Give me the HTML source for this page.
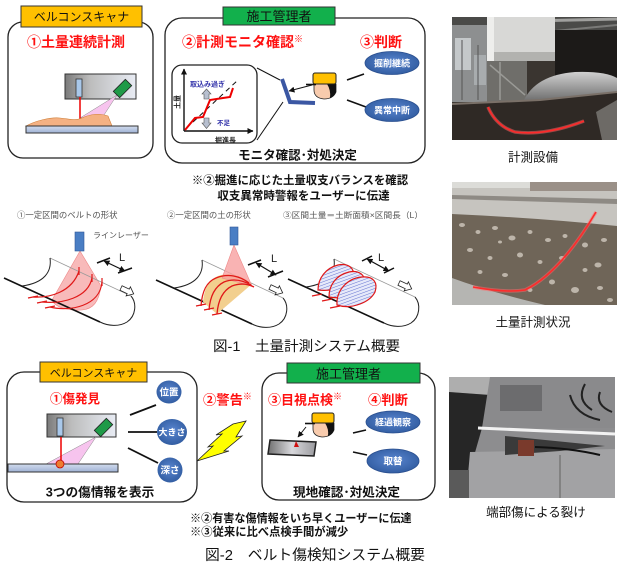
<!DOCTYPE html>
<html><head><meta charset="utf-8">
<style>
html,body{margin:0;padding:0;background:#fff;}
svg{display:block;}
text{font-family:"Liberation Sans","Noto Sans CJK JP",sans-serif;}
.r{fill:#FF1010;font-weight:bold;}
.b{font-weight:bold;fill:#111;}
.w{fill:#fff;font-weight:bold;}
.cap{fill:#555;}
</style></head><body>
<svg width="624" height="568" viewBox="0 0 624 568" xmlns="http://www.w3.org/2000/svg">
<defs>
  <linearGradient id="dev" x1="0" x2="1" y1="0" y2="0">
    <stop offset="0" stop-color="#7a7a7a"/><stop offset="0.35" stop-color="#bcbcbc"/><stop offset="1" stop-color="#e8ecf4"/>
  </linearGradient>
  <linearGradient id="belt" x1="0" x2="0" y1="0" y2="1">
    <stop offset="0" stop-color="#d2dcee"/><stop offset="1" stop-color="#9fb2d4"/>
  </linearGradient>
  <linearGradient id="plate" x1="0" x2="1" y1="0" y2="0">
    <stop offset="0" stop-color="#707070"/><stop offset="0.5" stop-color="#d8d8dc"/><stop offset="1" stop-color="#9a9a9e"/>
  </linearGradient>
  <radialGradient id="ell" cx="0.5" cy="0.45" r="0.6">
    <stop offset="0" stop-color="#5a86d0"/><stop offset="1" stop-color="#2f5a9e"/>
  </radialGradient>
  <linearGradient id="drum" x1="0" x2="0" y1="0" y2="1">
    <stop offset="0" stop-color="#d0d0d0"/><stop offset="1" stop-color="#6a6a6a"/>
  </linearGradient>
  <pattern id="hatch" width="3" height="3" patternUnits="userSpaceOnUse" patternTransform="rotate(70)">
    <rect width="3" height="3" fill="#e6e9fa"/>
    <line x1="0" y1="0" x2="0" y2="3" stroke="#5566cc" stroke-width="0.9"/>
  </pattern>
  <marker id="ah" markerWidth="6" markerHeight="6" refX="5.5" refY="3" orient="auto" markerUnits="userSpaceOnUse">
    <path d="M0,0 L6,3 L0,6 Z" fill="#111"/>
  </marker>
  <marker id="ah2" markerWidth="6" markerHeight="6" refX="5.5" refY="3" orient="auto-start-reverse" markerUnits="userSpaceOnUse">
    <path d="M0,0 L6,3 L0,6 Z" fill="#111"/>
  </marker>
  <clipPath id="c1"><rect x="452" y="17" width="165" height="123"/></clipPath>
  <clipPath id="c2"><rect x="452" y="182" width="165" height="123"/></clipPath>
  <clipPath id="c3"><rect x="449" y="377" width="166" height="121"/></clipPath>
  <g id="beltshape">
    <path d="M50,258 L131,296" stroke="#999" stroke-width="0.8" fill="none"/>
    <path d="M50,258 C52,272 44,283 22,286" stroke="#222" stroke-width="1" fill="none"/>
    <path d="M4,278 L100,322" stroke="#111" stroke-width="1.6" fill="none"/>
    <path d="M131,296 C137,303 136,316 127,322 C119,327 108,326 100,322" stroke="#222" stroke-width="1" fill="none"/>
  </g>
  <g id="harrow">
    <path d="M0,-2.5 L8,-2.5 L8,-5 L14,0 L8,5 L8,2.5 L0,2.5 Z" fill="#fff" stroke="#222" stroke-width="0.8"/>
  </g>
</defs>

<rect width="624" height="568" fill="#fff"/>

<!-- ============ FIGURE 1 TOP ============ -->
<!-- Box 1 -->
<rect x="8" y="22" width="145" height="136" rx="15" fill="#fff" stroke="#222" stroke-width="1.3"/>
<rect x="21" y="6" width="121" height="21" fill="#FFC000" stroke="#333" stroke-width="1"/>
<text x="81.5" y="21" font-size="12" text-anchor="middle" fill="#111">ベルコンスキャナ</text>
<text x="27" y="47" font-size="14" class="r">①土量連続計測</text>
<!-- device -->
<rect x="65" y="74" width="71" height="25" fill="url(#dev)" stroke="#333" stroke-width="1"/>
<rect x="76" y="79" width="6" height="18" fill="#a9c8ea" stroke="#333" stroke-width="0.8"/>
<polygon points="117,95 80,118 104,115" fill="#f7c4ee" stroke="#888" stroke-width="0.5"/>
<rect x="114" y="84" width="17" height="9" fill="#1f9a48" stroke="#222" stroke-width="0.8" transform="rotate(-45 122.5 88.5)"/>
<line x1="80" y1="97" x2="80" y2="119" stroke="#e00" stroke-width="1.5"/>
<path d="M26,126 C35,121 50,117 60,118 C70,119 75,121 82,118 C90,114 100,113 108,116 L112,126 Z" fill="#f4b183" stroke="#d0803a" stroke-width="0.6"/>
<rect x="26" y="126" width="112" height="7" fill="url(#belt)" stroke="#333" stroke-width="1"/>

<!-- Box 2 -->
<rect x="165" y="18" width="260" height="145" rx="17" fill="#fff" stroke="#222" stroke-width="1.3"/>
<rect x="223" y="7" width="112" height="18" fill="#12b04c" stroke="#333" stroke-width="1"/>
<text x="279" y="21" font-size="13" text-anchor="middle" fill="#111">施工管理者</text>
<text x="182" y="47" font-size="14" class="r">②計測モニタ確認<tspan font-size="9" dy="-5">※</tspan></text>
<text x="360" y="47" font-size="14" class="r">③判断</text>

<!-- graph box -->
<rect x="172" y="65" width="85" height="78" rx="10" fill="#fff" stroke="#222" stroke-width="1.3"/>
<line x1="184" y1="131" x2="184" y2="69" stroke="#111" stroke-width="1.4" marker-end="url(#ah)"/>
<line x1="184" y1="131" x2="253" y2="131" stroke="#111" stroke-width="1.4" marker-end="url(#ah)"/>
<line x1="193" y1="122" x2="238" y2="80" stroke="#111" stroke-width="1" stroke-dasharray="5,4"/>
<polyline points="185,130 195,118 203,117 210,100 223,98 230,97 233,88" fill="none" stroke="#e00" stroke-width="2"/>
<polygon points="206.5,89 211,94 209,94 209,99 204,99 204,94 202,94" fill="#b8c0d0" stroke="#555" stroke-width="0.6"/>
<polygon points="202,123 204,123 204,118 209,118 209,123 211,123 206.5,128.5" fill="#b8c0d0" stroke="#555" stroke-width="0.6"/>
<text x="190" y="86.5" font-size="7" fill="#3333aa" font-weight="bold">取込み過ぎ</text>
<text x="217" y="125" font-size="6.5" fill="#3333aa" font-weight="bold">不足</text>
<text x="215" y="142.5" font-size="7" fill="#222" font-weight="bold">掘進長</text>
<text x="0" y="0" font-size="7" fill="#222" font-weight="bold" text-anchor="middle" transform="translate(179.5,102) rotate(-90)">土量</text>

<!-- connection lines to monitor -->
<line x1="257" y1="68" x2="280" y2="80" stroke="#111" stroke-width="1"/>
<line x1="257" y1="140" x2="283" y2="102" stroke="#111" stroke-width="1"/>
<!-- monitor -->
<polyline points="282,79 290,102 315,103" fill="none" stroke="#3b57a3" stroke-width="4" stroke-linejoin="miter"/>
<line x1="312" y1="85" x2="289" y2="91" stroke="#111" stroke-width="1" marker-end="url(#ah)"/>
<!-- person 1 -->
<path d="M314,84 L336,84 L336,92 Q333,99 324,99 Q314,98 314,90 Z" fill="#f8cbad" stroke="#222" stroke-width="0.8"/>
<path d="M327,84 L336,84 L336,92 Q334,97 330,98 Q331,90 327,84Z" fill="#111"/>
<rect x="313" y="73" width="23" height="11" rx="2" fill="#FFC000" stroke="#222" stroke-width="1"/>
<line x1="306" y1="84.5" x2="316" y2="84.5" stroke="#111" stroke-width="1.6"/>
<!-- judgement lines -->
<line x1="347" y1="80" x2="364" y2="74" stroke="#111" stroke-width="1.6"/>
<line x1="347" y1="100" x2="366" y2="107" stroke="#111" stroke-width="1.6"/>
<ellipse cx="392" cy="63" rx="27" ry="11.5" fill="url(#ell)" stroke="#2a4f8f" stroke-width="0.8"/>
<text x="392" y="66.5" font-size="9" text-anchor="middle" class="w">掘削継続</text>
<ellipse cx="392" cy="110" rx="27" ry="11.5" fill="url(#ell)" stroke="#2a4f8f" stroke-width="0.8"/>
<text x="392" y="113.5" font-size="9" text-anchor="middle" class="w">異常中断</text>

<text x="297.5" y="159.5" font-size="12.5" text-anchor="middle" class="b">モニタ確認･対処決定</text>

<text x="300" y="184" font-size="11.4" text-anchor="middle" class="b">※②掘進に応じた土量収支バランスを確認</text>
<text x="303.5" y="199.5" font-size="11.5" text-anchor="middle" class="b">収支異常時警報をユーザーに伝達</text>

<!-- ============ FIGURE 1 DRAWINGS ============ -->
<text x="17" y="218" font-size="8.4" class="cap">①一定区間のベルトの形状</text>
<text x="167" y="218" font-size="8.4" class="cap">②一定区間の土の形状</text>
<text x="283" y="218" font-size="8.2" class="cap" textLength="140" lengthAdjust="spacingAndGlyphs">③区間土量＝土断面積×区間長（L）</text>
<text x="93" y="238" font-size="8" class="cap">ラインレーザー</text>

<!-- drawing 1 -->
<path d="M80,251 L52,300 C55,308 70,311 82,310 C93,309 99,302 101,286 Z" fill="#f7aeae" fill-opacity="0.85" stroke="#e88" stroke-width="0.6"/>
<use href="#beltshape"/>
<rect x="75" y="232" width="9" height="19" fill="#4a7ec4" stroke="#2f5597" stroke-width="0.6"/>
<g fill="none" stroke="#e01818" stroke-width="1.2">
  <path d="M33,297 C50,298 72,292 79,271"/>
  <path d="M42,302 C62,304 88,298 92,278"/>
  <path d="M50,307 C70,312 100,306 102,282"/>
  <path d="M28,298 L38,296 M37,303 L47,301 M45,308 L55,306 M79,267 L79,275 M92,274 L92,282 M102,278 L102,286"/>
</g>
<g stroke="#111" stroke-width="1.5">
  <line x1="97" y1="263" x2="110" y2="258"/>
  <line x1="118" y1="273" x2="132" y2="268"/>
  <line x1="104" y1="261" x2="125" y2="271" stroke-width="1.2" marker-start="url(#ah2)" marker-end="url(#ah2)"/>
</g>
<text x="119" y="261" font-size="11" fill="#222">L</text>
<use href="#harrow" transform="translate(121,288) rotate(25)"/>

<!-- drawing 2 -->
<use href="#beltshape" transform="translate(152,2)"/>
<path d="M203,302 C204,290 208,280 218,276 C228,272 240,274 252,284 L217,314 Z" fill="#f2cf8e"/>
<path d="M234,245 L222,278 L252,286 Z" fill="#f7a0a0" fill-opacity="0.8" stroke="#e88" stroke-width="0.6"/>
<rect x="230" y="227" width="8" height="18" fill="#4a7ec4" stroke="#2f5597" stroke-width="0.6"/>
<g fill="none" stroke="#e01818" stroke-width="1.3">
  <path d="M201,306 C202,292 206,282 216,278 C228,273 240,276 249,283"/>
  <path d="M209,310 C210,297 214,287 224,282 C234,278 244,281 251,285"/>
  <path d="M217,314 C218,301 222,291 232,286 C240,283 248,284 254,287"/>
  <path d="M196,306 L206,304 M204,310 L214,308 M212,315 L222,313"/>
</g>
<g stroke="#111" stroke-width="1.5">
  <line x1="248" y1="265" x2="261" y2="260"/>
  <line x1="268" y1="277" x2="283" y2="271"/>
  <line x1="256" y1="263" x2="276" y2="275" stroke-width="1.2" marker-start="url(#ah2)" marker-end="url(#ah2)"/>
</g>
<text x="271" y="262" font-size="11" fill="#222">L</text>
<use href="#harrow" transform="translate(270,287) rotate(25)"/>

<!-- drawing 3 -->
<use href="#beltshape" transform="translate(284,1)"/>
<g stroke-width="1.2">
  <path d="M318,290 C318,278 326,268 338,265 C348,263 355,268 353,276 C350,285 335,292 318,290 Z" fill="url(#hatch)" stroke="#e01818"/>
  <path d="M329,297 C329,284 337,275 349,272 C359,270 366,275 364,283 C360,293 345,300 329,297 Z" fill="url(#hatch)" stroke="#e01818"/>
  <path d="M337,305 C336,290 348,278 362,277 C374,276 378,283 375,292 C370,302 352,310 337,305 Z" fill="url(#hatch)" stroke="#e01818"/>
  <path d="M312,296 L322,294 M322,301 L332,299 M330,308 L340,306" stroke="#e01818"/>
</g>
<g stroke="#111" stroke-width="1.5">
  <line x1="362" y1="261" x2="372" y2="256"/>
  <line x1="384" y1="273" x2="394" y2="268"/>
  <line x1="367" y1="259" x2="389" y2="271" stroke-width="1.2" marker-start="url(#ah2)" marker-end="url(#ah2)"/>
</g>
<text x="378" y="261" font-size="11" fill="#222">L</text>
<use href="#harrow" transform="translate(399,283) rotate(25)"/>

<text x="213" y="351" font-size="14" fill="#111" textLength="187" lengthAdjust="spacingAndGlyphs">図-1　土量計測システム概要</text>

<!-- ============ FIGURE 2 ============ -->
<!-- Box A -->
<rect x="7" y="372" width="190" height="130" rx="17" fill="#fff" stroke="#222" stroke-width="1.3"/>
<rect x="40" y="362" width="107" height="20" fill="#FFC000" stroke="#333" stroke-width="1"/>
<text x="93.5" y="376.5" font-size="11" text-anchor="middle" fill="#111">ベルコンスキャナ</text>
<text x="50" y="403" font-size="12.5" class="r">①傷発見</text>
<rect x="47" y="414" width="69" height="23" fill="url(#dev)" stroke="#333" stroke-width="1"/>
<rect x="57" y="418" width="6" height="18" fill="#a9c8ea" stroke="#333" stroke-width="0.8"/>
<polygon points="96,437 46,464 78,464" fill="#f7c4ee" stroke="#888" stroke-width="0.5"/>
<rect x="95" y="423" width="17" height="9" fill="#1f9a48" stroke="#222" stroke-width="0.8" transform="rotate(-45 103.5 427.5)"/>
<line x1="61" y1="437" x2="61" y2="463" stroke="#e00" stroke-width="1.5"/>
<rect x="8" y="464" width="110" height="8" fill="url(#belt)" stroke="#333" stroke-width="1"/>
<circle cx="60" cy="464" r="4" fill="#ed7d31" stroke="#c00000" stroke-width="0.8"/>
<line x1="130" y1="415" x2="156" y2="405" stroke="#111" stroke-width="1.8"/>
<line x1="128" y1="432" x2="157" y2="432" stroke="#111" stroke-width="1.8"/>
<line x1="128" y1="448" x2="158" y2="463" stroke="#111" stroke-width="1.8"/>
<ellipse cx="169" cy="392" rx="12.5" ry="11.5" fill="url(#ell)"/>
<text x="169" y="395.5" font-size="9.5" text-anchor="middle" class="w">位置</text>
<ellipse cx="172" cy="432" rx="15" ry="13" fill="url(#ell)"/>
<text x="172" y="435.5" font-size="9" text-anchor="middle" class="w">大きさ</text>
<ellipse cx="170" cy="470" rx="12.5" ry="12.5" fill="url(#ell)"/>
<text x="170" y="473.5" font-size="9.5" text-anchor="middle" class="w">深さ</text>
<text x="100" y="496.5" font-size="12.7" text-anchor="middle" class="b">3つの傷情報を表示</text>

<!-- warning -->
<text x="203" y="404.5" font-size="13.3" class="r">②警告<tspan font-size="9" dy="-5">※</tspan></text>
<polygon points="246,421 236,437 242,436 224,451 229,451 197,461 213,446 208,447 222,434 216,435 233,424" fill="#ffff00" stroke="#222" stroke-width="0.8"/>

<!-- Box B -->
<rect x="262" y="373" width="173" height="127" rx="17" fill="#fff" stroke="#222" stroke-width="1.3"/>
<rect x="287" y="363" width="133" height="20" fill="#12b04c" stroke="#333" stroke-width="1"/>
<text x="348.5" y="378.5" font-size="13" text-anchor="middle" fill="#111">施工管理者</text>
<text x="268" y="404.5" font-size="13" class="r">③目視点検<tspan font-size="9" dy="-5">※</tspan></text>
<text x="368" y="404.5" font-size="13.3" class="r">④判断</text>
<!-- person 2 -->
<path d="M313,423 L334,423 L334,430 Q331,437 322,437 Q313,436 313,429 Z" fill="#f8cbad" stroke="#222" stroke-width="0.8"/>
<path d="M325,423 L334,423 L334,430 Q332,435 328,436 Q329,429 325,423Z" fill="#111"/>
<rect x="312" y="413" width="22" height="10" rx="2" fill="#FFC000" stroke="#222" stroke-width="1"/>
<line x1="305" y1="423.5" x2="315" y2="423.5" stroke="#111" stroke-width="1.6"/>
<line x1="306" y1="427" x2="298" y2="437" stroke="#111" stroke-width="1" marker-end="url(#ah)"/>
<polygon points="270,440 316,442 314,456 268,454" fill="url(#plate)" stroke="#222" stroke-width="1.5"/>
<polygon points="296,441 299,447 294,447" fill="#d01010"/>
<line x1="353" y1="433" x2="366" y2="430" stroke="#111" stroke-width="1.6"/>
<line x1="353" y1="452" x2="367" y2="455" stroke="#111" stroke-width="1.6"/>
<ellipse cx="393" cy="422" rx="27" ry="11" fill="url(#ell)" stroke="#2a4f8f" stroke-width="0.8"/>
<text x="393" y="425.5" font-size="9" text-anchor="middle" class="w">経過観察</text>
<ellipse cx="393" cy="461" rx="26" ry="12" fill="url(#ell)" stroke="#2a4f8f" stroke-width="0.8"/>
<text x="393" y="464.5" font-size="9.5" text-anchor="middle" class="w">取替</text>
<text x="346.5" y="496.5" font-size="12.6" text-anchor="middle" class="b">現地確認･対処決定</text>

<text x="190" y="522" font-size="11.1" class="b">※②有害な傷情報をいち早くユーザーに伝達</text>
<text x="190" y="535.5" font-size="11.3" class="b">※③従来に比べ点検手間が減少</text>
<text x="205" y="560" font-size="14.5" fill="#111" textLength="220" lengthAdjust="spacingAndGlyphs">図-2　ベルト傷検知システム概要</text>

<!-- ============ PHOTOS ============ -->
<g clip-path="url(#c1)">
  <rect x="452" y="17" width="165" height="123" fill="#3a3530"/>
  <rect x="452" y="17" width="165" height="25" fill="#4a4a48"/>
  <path d="M487,22 L617,19" stroke="#a0a09e" stroke-width="3"/>
  <path d="M555,31 L617,25" stroke="#7a7a78" stroke-width="2"/>
  <rect x="452" y="25" width="36" height="77" fill="#8d8f90"/>
  <rect x="455" y="38" width="16" height="32" fill="#c4c8ca"/>
  <rect x="474" y="55" width="12" height="30" fill="#a8acae"/>
  <path d="M462,40 L462,100 M478,45 L478,100" stroke="#555" stroke-width="1"/>
  <rect x="555" y="30" width="62" height="50" fill="#1c1a18"/>
  <rect x="487" y="60" width="40" height="42" fill="#6f6e6a"/>
  <path d="M490,65 L525,95 M500,62 L500,100" stroke="#9a9a96" stroke-width="1.5"/>
  <rect x="487" y="17" width="68" height="44" fill="#d8d8d6"/>
  <rect x="487" y="52" width="68" height="9" fill="#b2b2af"/>
  <rect x="487" y="17" width="7" height="44" fill="#eeeeec"/>
  <path d="M523,102 Q535,75 575,72 Q605,71 617,78 L617,102 Z" fill="url(#drum)"/>
  <path d="M452,104 L540,100 L617,92 L617,140 L452,140 Z" fill="#2f2925"/>
  <path d="M452,104 L540,100 L617,92" stroke="#7a7068" stroke-width="2" fill="none"/>
  <path d="M596,112 L617,100 L617,140 L602,140 Z" fill="#6d6a66"/>
  <path d="M488,107 Q496,126 515,132 Q545,136 584,121" stroke="#ff6a6a" stroke-width="3.5" stroke-opacity="0.5" fill="none"/>
  <path d="M488,107 Q496,126 515,132 Q545,136 584,121" stroke="#ff2a2a" stroke-width="1.6" fill="none"/>
</g>
<text x="533" y="161.5" font-size="12.5" text-anchor="middle" fill="#111">計測設備</text>

<g clip-path="url(#c2)">
  <rect x="452" y="182" width="165" height="123" fill="#c6c4bf"/>
  <rect x="452" y="182" width="165" height="6" fill="#dcdcd8"/>
  <rect x="530" y="182" width="87" height="9" fill="#9a9088"/>
  <path d="M452,195 L617,199 L617,204 L452,199Z" fill="#8e8a84"/>
  <path d="M452,214 Q540,218 617,226 L617,305 L452,305 Z" fill="#6f6558"/>
  <g fill="#bdb5aa">
    <ellipse cx="462" cy="225" rx="3" ry="2"/><ellipse cx="478" cy="232" rx="2.5" ry="2"/><ellipse cx="495" cy="228" rx="3" ry="2"/>
    <ellipse cx="512" cy="238" rx="3.5" ry="2.5"/><ellipse cx="530" cy="232" rx="2.5" ry="2"/><ellipse cx="548" cy="240" rx="3" ry="2"/>
    <ellipse cx="565" cy="236" rx="2.5" ry="2"/><ellipse cx="585" cy="245" rx="3" ry="2.5"/><ellipse cx="604" cy="240" rx="3" ry="2"/>
    <ellipse cx="470" cy="250" rx="3" ry="2"/><ellipse cx="490" cy="258" rx="2.5" ry="2"/><ellipse cx="520" cy="255" rx="3" ry="2.5"/>
    <ellipse cx="540" cy="262" rx="2.5" ry="2"/><ellipse cx="562" cy="258" rx="3" ry="2"/><ellipse cx="598" cy="265" rx="3.5" ry="2.5"/>
    <ellipse cx="480" cy="272" rx="2.5" ry="2"/><ellipse cx="505" cy="275" rx="3" ry="2"/><ellipse cx="552" cy="282" rx="3" ry="2.5"/>
    <ellipse cx="575" cy="290" rx="4" ry="3"/><ellipse cx="600" cy="288" rx="3" ry="2"/><ellipse cx="585" cy="270" rx="2.5" ry="2"/>
    <ellipse cx="610" cy="300" rx="3" ry="2"/><ellipse cx="530" cy="290" rx="2.5" ry="2"/><ellipse cx="500" cy="242" rx="2" ry="1.5"/>
  </g>
  <path d="M452,278 Q490,292 545,305 L452,305Z" fill="#b5b5b2"/>
  <path d="M473,287 Q505,293 525,290 Q560,273 596,212" stroke="#ff6a6a" stroke-width="3.5" stroke-opacity="0.5" fill="none"/>
  <path d="M473,287 Q505,293 525,290 Q560,273 596,212" stroke="#ff2a2a" stroke-width="1.6" fill="none"/>
</g>
<text x="533" y="326.5" font-size="12.5" text-anchor="middle" fill="#111">土量計測状況</text>

<g clip-path="url(#c3)">
  <rect x="449" y="377" width="166" height="121" fill="#8d8d8f"/>
  <path d="M449,377 L500,377 L490,395 L449,392 Z" fill="#aeaeae"/>
  <path d="M449,392 L490,395 L482,428 L470,470 L449,470Z" fill="#262626"/>
  <path d="M490,377 L615,377 L615,428 L482,428 Z" fill="#8a8a8c"/>
  <rect x="500" y="385" width="42" height="26" fill="#6c6c6e"/>
  <path d="M585,384 Q576,400 592,410 M600,392 Q595,405 612,412 M570,395 Q575,415 600,420" stroke="#222" stroke-width="2" fill="none"/>
  <path d="M470,452 L615,449 L615,498 L466,498 Z" fill="#a2a2a4"/>
  <path d="M505,436 L605,446 L560,451 L505,455 Z" fill="#3a3a3a"/>
  <path d="M535,447 Q570,448 600,455" stroke="#111" stroke-width="2" fill="none"/>
  <rect x="518" y="440" width="16" height="16" fill="#7a3a2c"/>
  <path d="M478,428 L615,434" stroke="#f2f2f2" stroke-width="3"/>
  <rect x="449" y="470" width="20" height="28" fill="#5a5a5a"/>
  <path d="M560,455 L560,498" stroke="#777" stroke-width="1.5"/>
</g>
<text x="536" y="516.5" font-size="12.5" text-anchor="middle" fill="#111">端部傷による裂け</text>

</svg>
</body></html>
